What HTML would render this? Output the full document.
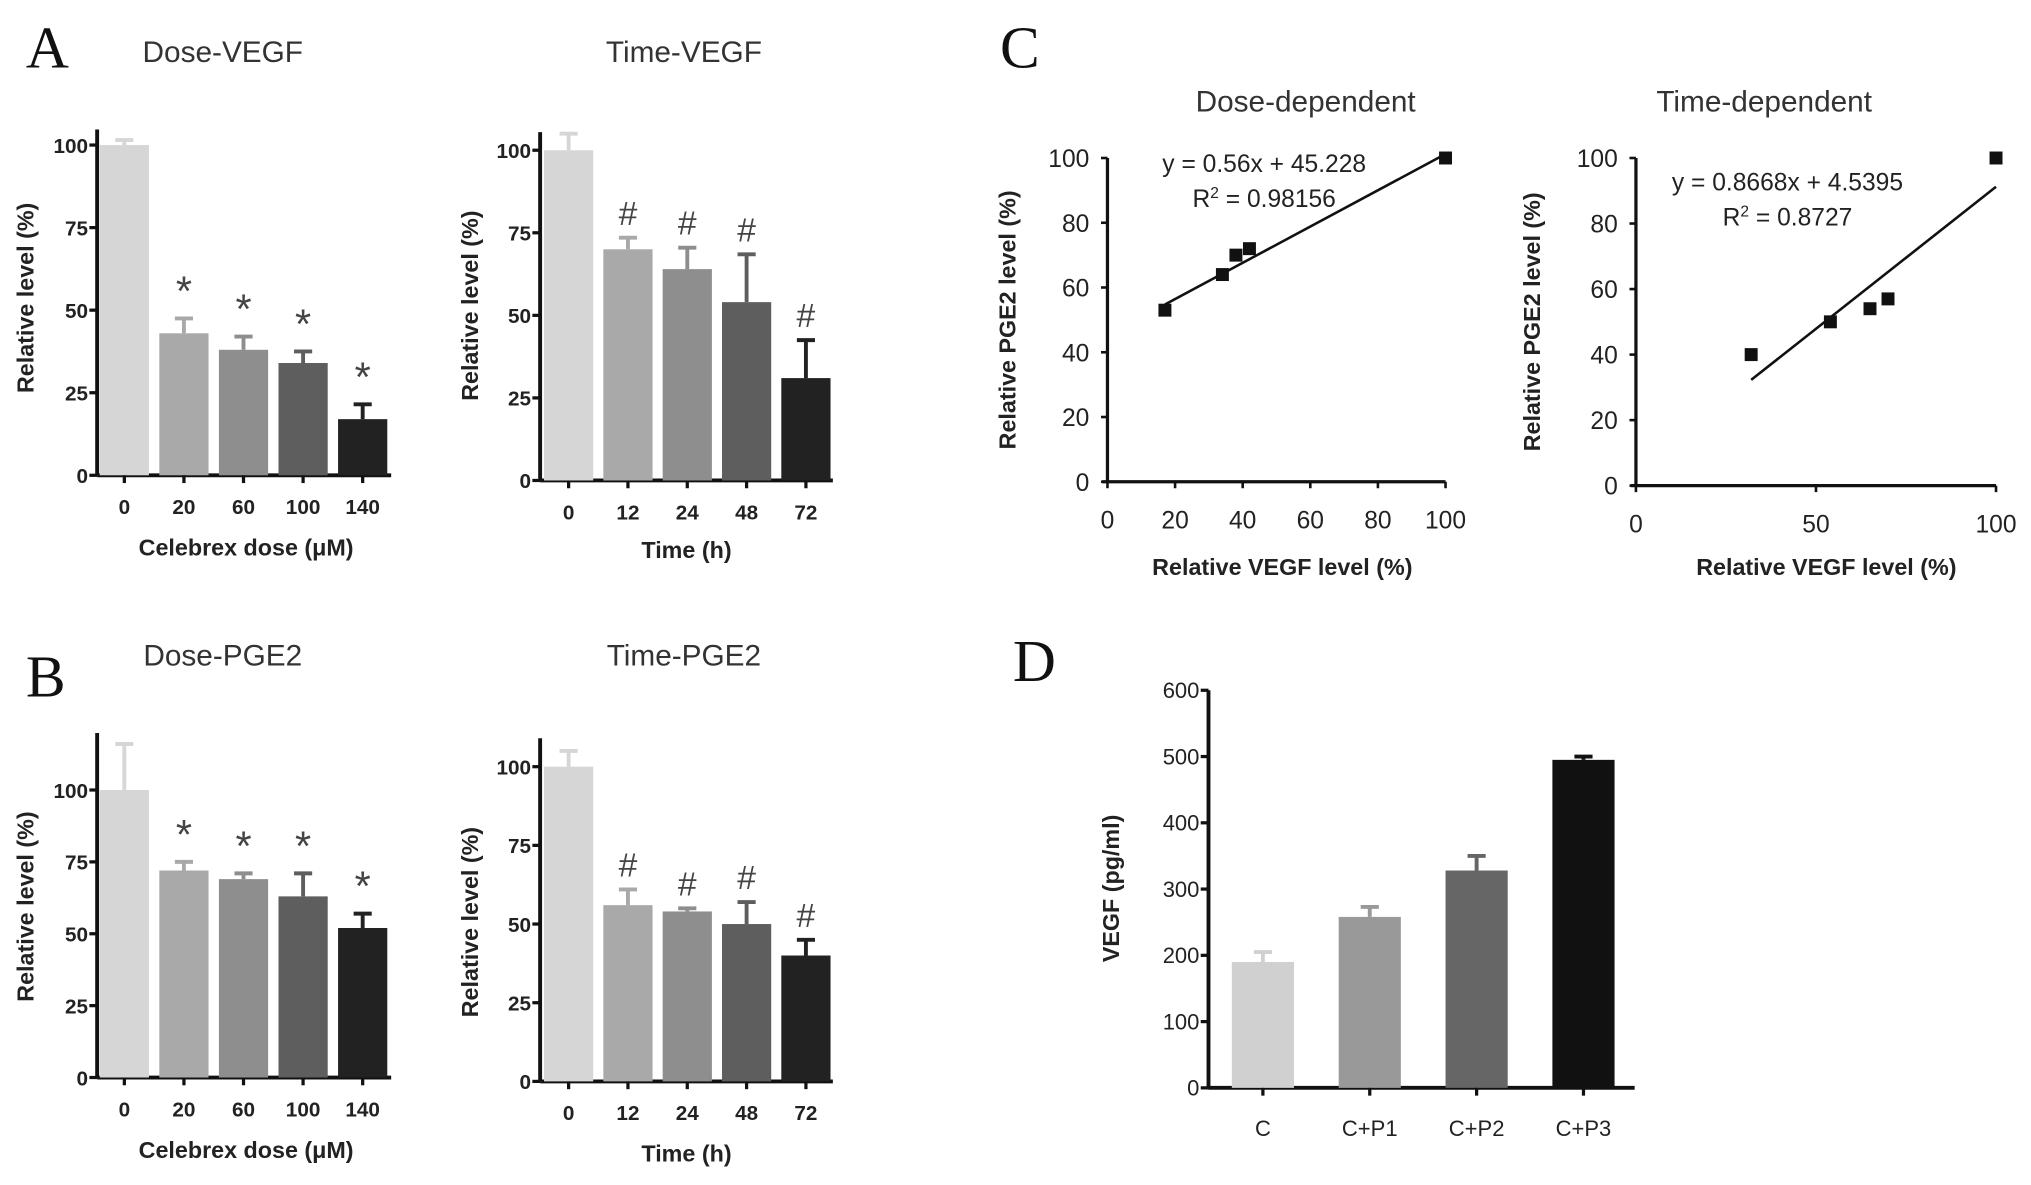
<!DOCTYPE html>
<html><head><meta charset="utf-8"><style>
html,body{margin:0;padding:0;background:#fff}
svg{display:block}
text{font-family:"Liberation Sans",sans-serif}
</style></head><body>
<svg id="fig" width="2031" height="1185" viewBox="0 0 1568 915" preserveAspectRatio="none" xmlns="http://www.w3.org/2000/svg"></svg>
<script>
const NS="http://www.w3.org/2000/svg";
const svg=document.getElementById('fig');
// ---- data ----
const doseCats=["0","20","60","100","140"];
const timeCats=["0","12","24","48","72"];
const doseVegf=[100,43,38,34,17];
const doseVegfErr=[1.5,4.5,4,3.5,4.5];
const timeVegf=[100,70,64,54,31];
const timeVegfErr=[5,3.5,6.5,14.5,11.5];
const dosePge=[100,72,69,63,52];
const dosePgeErr=[16,3,2,8,5];
const timePge=[100,56,54,50,40];
const timePgeErr=[5,5,1,7,5];
const pctTicks=[0,25,50,75,100];
const scatTicksY=[0,20,40,60,80,100];
const doseScatX=[17,34,38,42,100];
const doseScatY=[53,64,70,72,100];
const doseScatXTicks=[0,20,40,60,80,100];
const timeScatX=[32,54,65,70,100];
const timeScatY=[40,50,54,57,100];
const timeScatXTicks=[0,50,100];
const dCats=["C","C+P1","C+P2","C+P3"];
const dVals=[190,258,328,495];
const dErr=[15,15,22,5];
const dTicks=[0,100,200,300,400,500,600];
const grays5=["#d6d6d6","#a9a9a9","#8e8e8e","#5e5e5e","#222"];
const grays4=["#d0d0d0","#999","#666","#111"];

function el(tag,attrs,parent){const e=document.createElementNS(NS,tag);for(const k in attrs)e.setAttribute(k,attrs[k]);(parent||svg).appendChild(e);return e;}
function txt(s,x,y,size,opts,parent){const t=el('text',Object.assign({x:x,y:y,'font-size':size,'text-anchor':'middle',fill:'#222'},opts||{}),parent);t.textContent=s;return t;}

function barChart(name,cfg){
  const g=el('g',{});
  
  
  const y=v=>cfg.y0-(v-cfg.vmin)/(cfg.vmax-cfg.vmin)*(cfg.y0-cfg.y1);
  const xc=i=>cfg.xStart+i*cfg.step;
  el('line',{x1:cfg.ax,y1:cfg.y0,x2:cfg.ax,y2:cfg.top,stroke:'#111','stroke-width':3},g);
  el('line',{x1:cfg.ax,y1:cfg.y0,x2:cfg.xEnd,y2:cfg.y0,stroke:'#111','stroke-width':3},g);
  cfg.ticks.forEach(t=>{
    el('line',{x1:cfg.ax-6,y1:y(t),x2:cfg.ax,y2:y(t),stroke:'#111','stroke-width':2.5},g);
    const tl=txt(String(t),cfg.ax-7,y(t)+6,cfg.tickSize||16,{'text-anchor':'end','font-weight':cfg.bold?'bold':'normal'},g);
    
    
  });
  cfg.vals.forEach((v,i)=>{
    const cx=xc(i);
    const r=el('rect',{x:cx-cfg.bw/2,y:y(v),width:cfg.bw,height:cfg.y0-y(v),fill:cfg.colors[i]},g);
    
    
    const ey=y(v+cfg.err[i]);
    el('line',{x1:cx,y1:y(v),x2:cx,y2:ey,stroke:cfg.colors[i],'stroke-width':3},g);
    el('line',{x1:cx-7,y1:ey,x2:cx+7,y2:ey,stroke:cfg.colors[i],'stroke-width':3},g);
    el('line',{x1:cx,y1:cfg.y0,x2:cx,y2:cfg.y0+6,stroke:'#111','stroke-width':2.5},g);
    const xl=txt(cfg.cats[i],cx,cfg.labY,cfg.tickSize||16,{'font-weight':cfg.bold?'bold':'normal'},g);
    
    
    if(cfg.mark&&i>0){
      const m=txt(cfg.mark,cx,ey-10,cfg.mark==='*'?32:26,{fill:'#444'},g);
      
      
    }
  });
  const xt=txt(cfg.xTitle,cfg.xTitleX,cfg.xTitleY,18,{'font-weight':'bold'},g);
  
  
  const yt=txt(cfg.yTitle,0,0,18,{'font-weight':'bold',transform:`translate(${cfg.yTitleX},${cfg.yTitleY}) rotate(-90)`},g);
  
  
  if(cfg.title){const tt=txt(cfg.title,cfg.titleX,cfg.titleY,23,{fill:'#333'},g);
    
    }
}

function scatter(name,cfg){
  const g=el('g',{});
  
  
  const x=v=>cfg.x0+v/100*(cfg.x100-cfg.x0);
  const y=v=>cfg.y0-v/100*(cfg.y0-cfg.y100);
  el('line',{x1:x(0),y1:cfg.y0,x2:x(0),y2:cfg.y100,stroke:'#111','stroke-width':2.5},g);
  el('line',{x1:x(0)-4,y1:cfg.y0,x2:x(100),y2:cfg.y0,stroke:'#111','stroke-width':2.5},g);
  cfg.yTicks.forEach(t=>{
    el('line',{x1:x(0)-5,y1:y(t),x2:x(0),y2:y(t),stroke:'#111','stroke-width':2},g);
    const l=txt(String(t),x(0)-14,y(t)+7,19,{'text-anchor':'end'},g);
    
    
  });
  cfg.xTicks.forEach(t=>{
    el('line',{x1:x(t),y1:cfg.y0,x2:x(t),y2:cfg.y0+5,stroke:'#111','stroke-width':2},g);
    const l=txt(String(t),x(t),cfg.y0+36,19,{},g);
    
    
  });
  const xmin=Math.min(...cfg.xs),xmax=Math.max(...cfg.xs);
  const tl=el('line',{x1:x(xmin),y1:y(cfg.m*xmin+cfg.b),x2:x(xmax),y2:y(cfg.m*xmax+cfg.b),stroke:'#111','stroke-width':2},g);
  
  
  cfg.xs.forEach((v,i)=>{
    const p=el('rect',{x:x(v)-5,y:y(cfg.ys[i])-5,width:10,height:10,fill:'#111'},g);
    
    
  });
  const e1=txt(cfg.eq,cfg.eqX,cfg.eqY,19,{},g);
  
  
  const e2=txt('',cfg.eqX,cfg.eqY+27,19,{},g);
  e2.innerHTML='R<tspan dy="-7" font-size="12">2</tspan><tspan dy="7"> = '+cfg.r2+'</tspan>';
  
  
  const tt=txt(cfg.title,cfg.titleX,86,23,{fill:'#333'},g);
  
  
  const xt=txt('Relative VEGF level (%)',cfg.xTitleX,444,18,{'font-weight':'bold'},g);
  
  
  const yt=txt('Relative PGE2 level (%)',0,0,18,{'font-weight':'bold',transform:`translate(${cfg.yTitleX},${(cfg.y0+cfg.y100)/2}) rotate(-90)`},g);
  
  
}

function panelLetter(s,x,y){const t=txt(s,x,y,46,{style:'font-family:"Liberation Serif",serif','text-anchor':'start',fill:'#111'});
  
  }

panelLetter('A',20,52);panelLetter('B',20,538);panelLetter('C',772,52);panelLetter('D',782,526);

barChart('dose-vegf-chart',{cats:doseCats,vals:doseVegf,err:doseVegfErr,colors:grays5,ax:75,xEnd:302,y0:367,y1:112,top:100,vmin:0,vmax:100,ticks:pctTicks,xStart:96,step:46,bw:38,labY:397,mark:'*',bold:true,xTitle:'Celebrex dose (\u03bcM)',xTitleX:190,xTitleY:429,yTitle:'Relative level (%)',yTitleX:26,yTitleY:230,title:'Dose-VEGF',titleX:172,titleY:48});
barChart('time-vegf-chart',{cats:timeCats,vals:timeVegf,err:timeVegfErr,colors:grays5,ax:417,xEnd:643,y0:371,y1:116,top:102,vmin:0,vmax:100,ticks:pctTicks,xStart:439,step:45.8,bw:38,labY:401,mark:'#',bold:true,xTitle:'Time (h)',xTitleX:530,xTitleY:431,yTitle:'Relative level (%)',yTitleX:369,yTitleY:236,title:'Time-VEGF',titleX:528,titleY:48});
barChart('dose-pge2-chart',{cats:doseCats,vals:dosePge,err:dosePgeErr,colors:grays5,ax:75,xEnd:302,y0:832,y1:610,top:566,vmin:0,vmax:100,ticks:pctTicks,xStart:96,step:46,bw:38,labY:862,mark:'*',bold:true,xTitle:'Celebrex dose (\u03bcM)',xTitleX:190,xTitleY:894,yTitle:'Relative level (%)',yTitleX:26,yTitleY:700,title:'Dose-PGE2',titleX:172,titleY:514});
barChart('time-pge2-chart',{cats:timeCats,vals:timePge,err:timePgeErr,colors:grays5,ax:417,xEnd:643,y0:835,y1:592,top:570,vmin:0,vmax:100,ticks:pctTicks,xStart:439,step:45.8,bw:38,labY:865,mark:'#',bold:true,xTitle:'Time (h)',xTitleX:530,xTitleY:897,yTitle:'Relative level (%)',yTitleX:369,yTitleY:712,title:'Time-PGE2',titleX:528,titleY:514});

scatter('dose-dependent-scatter',{xs:doseScatX,ys:doseScatY,m:0.56,b:45.228,x0:855,x100:1116,y0:372,y100:122,yTicks:scatTicksY,xTicks:doseScatXTicks,eq:'y = 0.56x + 45.228',r2:'0.98156',eqX:976,eqY:133,title:'Dose-dependent',titleX:1008,xTitleX:990,yTitleX:784});
scatter('time-dependent-scatter',{xs:timeScatX,ys:timeScatY,m:0.8668,b:4.5395,x0:1263,x100:1541,y0:375,y100:122,yTicks:scatTicksY,xTicks:timeScatXTicks,eq:'y = 0.8668x + 4.5395',r2:'0.8727',eqX:1380,eqY:147,title:'Time-dependent',titleX:1362,xTitleX:1410,yTitleX:1189});

barChart('vegf-secretion-chart',{cats:dCats,vals:dVals,err:dErr,colors:grays4,ax:933,xEnd:1262,y0:840,y1:533,top:533,vmin:0,vmax:600,ticks:dTicks,xStart:975,step:82.5,bw:48,labY:877,mark:null,bold:false,tickSize:17,xTitle:'',xTitleX:1100,xTitleY:900,yTitle:'VEGF (pg/ml)',yTitleX:864,yTitleY:686,title:null});
</script>
</body></html>
